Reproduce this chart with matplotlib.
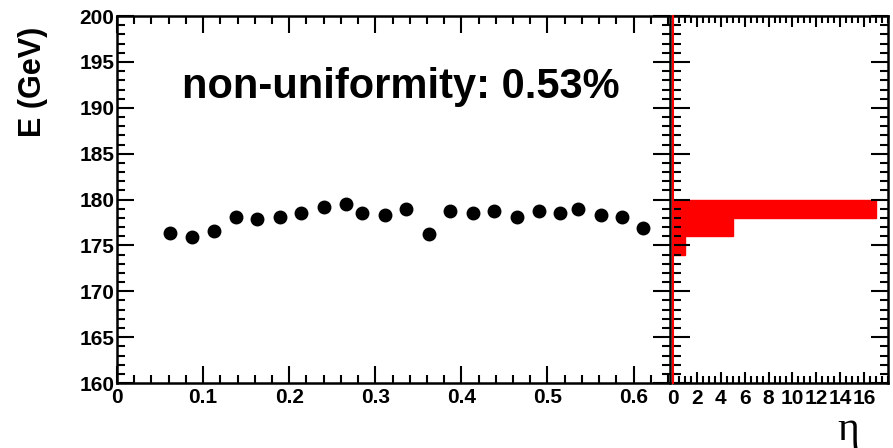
import numpy as np
import matplotlib
matplotlib.use("Agg")
import matplotlib.pyplot as plt
from matplotlib.ticker import MultipleLocator

plt.rcParams['font.family'] = ['Liberation Sans', 'DejaVu Sans']

# eta bin centres and reconstructed energy (GeV)
eta = [0.061, 0.087, 0.113, 0.138, 0.163, 0.189, 0.214, 0.240, 0.266, 0.285,
       0.311, 0.336, 0.362, 0.387, 0.413, 0.438, 0.465, 0.490, 0.515, 0.535,
       0.562, 0.586, 0.611]
energy = [176.4, 175.9, 176.6, 178.1, 177.9, 178.1, 178.5, 179.2, 179.5, 178.5,
          178.3, 179.0, 176.2, 178.8, 178.5, 178.8, 178.1, 178.8, 178.5, 179.0,
          178.3, 178.1, 176.9]
hist_bins = [174, 176, 178, 180]
label_text = "non-uniformity: 0.53%"

fig = plt.figure(figsize=(8.93, 4.48), dpi=100)
fig.patch.set_facecolor('white')

ax = fig.add_axes([0.131, 0.145, 0.619, 0.819])
ax2 = fig.add_axes([0.7536, 0.145, 0.2408, 0.819], sharey=ax)

# main panel
ax.plot(eta, energy, 'o', color='black', markersize=9)
ax.set_xlim(0, 0.642)
ax.set_ylim(160, 200)
ax.xaxis.set_major_locator(MultipleLocator(0.1))
ax.xaxis.set_minor_locator(MultipleLocator(0.02))
ax.yaxis.set_major_locator(MultipleLocator(5))
ax.yaxis.set_minor_locator(MultipleLocator(1))
ax.set_xticks(np.arange(0, 0.61, 0.1))
ax.set_xticklabels(['0', '0.1', '0.2', '0.3', '0.4', '0.5', '0.6'])
ax.set_ylabel('E (GeV)', fontsize=22, fontweight='bold', loc='top')
ax.yaxis.set_label_coords(-0.125, 0.97)
ax.text(0.513, 0.807, label_text, transform=ax.transAxes, fontsize=30,
        fontweight='bold', ha='center', va='center')

# projection panel
ax2.hist(energy, bins=hist_bins, orientation='horizontal', color='red',
         histtype='stepfilled', edgecolor='red')
ax2.axvline(0, color='red', lw=1.5, zorder=5, clip_on=False)
ax2.set_xlim(0, 18)
ax2.xaxis.set_major_locator(MultipleLocator(2))
ax2.xaxis.set_minor_locator(MultipleLocator(0.5))
ax2.set_xticks(np.arange(0, 17, 2))
ax2.tick_params(axis='y', labelleft=False)

for a in (ax, ax2):
    for s in a.spines.values():
        s.set_linewidth(1.8)
    a.tick_params(which='both', direction='in', top=True, right=True, width=1.5)
    a.tick_params(which='major', length=12, labelsize=15)
    a.tick_params(which='minor', length=6)
    for lab in a.get_xticklabels() + a.get_yticklabels():
        lab.set_fontweight('bold')
ax2.spines['left'].set_visible(False)
ax2.tick_params(axis='x', which='major', length=8)
ax2.tick_params(axis='x', which='minor', length=5)
ax2.tick_params(axis='x', pad=4)
ax.tick_params(axis='y', pad=2)

fig.text(0.95, 0.04, '\u03b7', fontsize=30, ha='center', va='center',
         family=['Liberation Serif', 'DejaVu Serif'])

fig.savefig('out.png', dpi=100)
